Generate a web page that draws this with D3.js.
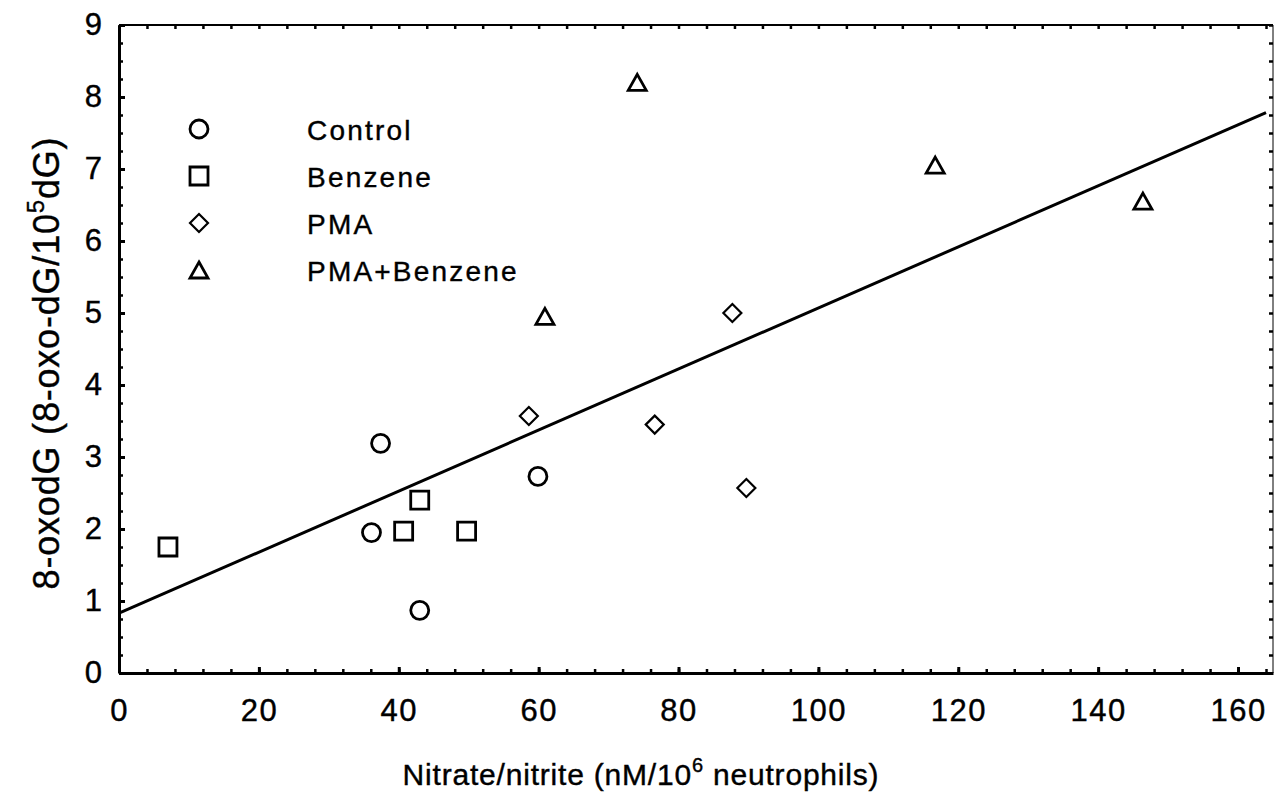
<!DOCTYPE html>
<html>
<head>
<meta charset="utf-8">
<script src="https://cdn.jsdelivr.net/npm/d3@7"></script>
<style>
  body { margin: 0; background: #fff; }
  text { font-family: "Liberation Sans", Arial, sans-serif; fill: #000; stroke: #000; stroke-width: 0.4px; }
</style>
</head>
<body>
<div id="chart"></div>
<script>
// data
const groups = ["Control", "Benzene", "PMA", "PMA+Benzene"];
const control = [[37.4, 3.19], [36.1, 1.95], [43.0, 0.87], [59.9, 2.73]];
const benzene = [[7.0, 1.75], [40.7, 1.97], [43.0, 2.40], [49.7, 1.97]];
const pma = [[58.6, 3.57], [76.6, 3.45], [87.7, 5.0], [89.7, 2.57]];
const pmaBenzene = [[60.9, 4.94], [74.1, 8.19], [116.7, 7.04], [146.4, 6.54]];
const fitIntercept = 0.83;
const fitSlope = 0.0424;
const fitRange = [0, 164];
const xTicks = [0, 20, 40, 60, 80, 100, 120, 140, 160];
const yTicks = [0, 1, 2, 3, 4, 5, 6, 7, 8, 9];

const W = 1278, H = 796;
const margin = {top: 25, right: 5, bottom: 123, left: 119};
const width = W - margin.left - margin.right;
const height = H - margin.top - margin.bottom;

const svg = d3.select("#chart").append("svg")
    .attr("width", W)
    .attr("height", H)
  .append("g")
    .attr("transform", `translate(${margin.left},${margin.top})`);

const x = d3.scaleLinear().domain([0, 165]).range([0, width]);
const y = d3.scaleLinear().domain([0, 9]).range([height, 0]);

// minor ticks on all four sides
svg.append("g").attr("transform", `translate(0,${height})`)
    .call(d3.axisBottom(x).tickValues(d3.range(0, 165, 4)).tickSize(-4).tickSizeOuter(0).tickFormat(""))
    .call(g => g.select(".domain").remove());
svg.append("g")
    .call(d3.axisTop(x).tickValues(d3.range(0, 165, 4)).tickSize(-4).tickSizeOuter(0).tickFormat(""))
    .call(g => g.select(".domain").remove());
svg.append("g")
    .call(d3.axisLeft(y).tickValues(d3.range(0, 9.01, 0.25)).tickSize(-4).tickSizeOuter(0).tickFormat(""))
    .call(g => g.select(".domain").remove());
svg.append("g").attr("transform", `translate(${width},0)`)
    .call(d3.axisRight(y).tickValues(d3.range(0, 9.01, 0.25)).tickSize(-4).tickSizeOuter(0).tickFormat(""))
    .call(g => g.select(".domain").remove());
svg.selectAll(".tick line").attr("stroke-width", 2.5);

// major axes
const xAxis = svg.append("g").attr("transform", `translate(0,${height})`)
    .call(d3.axisBottom(x).tickValues(xTicks).tickSize(-6).tickSizeOuter(0).tickPadding(26));
const yAxis = svg.append("g")
    .call(d3.axisLeft(y).tickValues(yTicks).tickSize(-6).tickSizeOuter(0).tickPadding(17));
[xAxis, yAxis].forEach(a => {
    a.select(".domain").attr("stroke-width", 3);
    a.selectAll(".tick line").attr("stroke-width", 3);
    a.selectAll(".tick text")
        .style("font-size", "31px")
        .style("letter-spacing", "1.5px")
        .attr("fill", "#000");
});
xAxis.selectAll(".tick text").attr("dy", "0.71em");
yAxis.selectAll(".tick text").attr("dx", "1.5px");

// top and right borders
svg.append("line").attr("x1", 0).attr("x2", width).attr("y1", 0).attr("y2", 0)
    .attr("stroke", "#000").attr("stroke-width", 2);
svg.append("line").attr("x1", width).attr("x2", width).attr("y1", 0).attr("y2", height)
    .attr("stroke", "#000").attr("stroke-width", 1);

// regression line
svg.append("path")
    .datum(fitRange.map(v => [v, fitIntercept + fitSlope * v]))
    .attr("d", d3.line().x(d => x(d[0])).y(d => y(d[1])))
    .attr("fill", "none")
    .attr("stroke", "#000")
    .attr("stroke-width", 3);

// marker shapes
const shapes = {
    "Control": () => d3.arc()({innerRadius: 0, outerRadius: 9, startAngle: 0, endAngle: 2 * Math.PI}),
    "Benzene": () => "M-9,-9H9V9H-9Z",
    "PMA": () => "M0,-9L9,0L0,9L-9,0Z",
    "PMA+Benzene": () => "M0,-9L9,7H-9Z"
};
const seriesData = [control, benzene, pma, pmaBenzene];

seriesData.forEach((pts, i) => {
    svg.append("g").selectAll("path")
        .data(pts)
        .join("path")
        .attr("d", shapes[groups[i]]())
        .attr("transform", d => `translate(${x(d[0])},${y(d[1])})`)
        .attr("fill", "none")
        .attr("stroke", "#000")
        .attr("stroke-width", i === 2 ? 2.2 : 2.8);
});

// legend
const legend = svg.append("g").attr("transform", "translate(80,104)");
groups.forEach((g, i) => {
    const row = legend.append("g").attr("transform", `translate(0,${i * 47})`);
    row.append("path")
        .attr("d", shapes[g]())
        .attr("transform", i === 3 ? "translate(0,1)" : null)
        .attr("fill", "none")
        .attr("stroke", "#000")
        .attr("stroke-width", i === 2 ? 2.2 : 2.8);
    row.append("text")
        .attr("x", 108)
        .attr("y", 11)
        .style("font-size", "28px")
        .style("letter-spacing", "2.2px")
        .text(g);
});

// axis titles
const xt = svg.append("text")
    .attr("x", 522)
    .attr("y", height + 112)
    .attr("text-anchor", "middle")
    .style("font-size", "30px")
    .style("letter-spacing", "0.8px");
xt.append("tspan").text("Nitrate/nitrite (nM/10");
xt.append("tspan").attr("dy", -13).style("font-size", "20px").text("6");
xt.append("tspan").attr("dy", 13).text(" neutrophils)");

const yt = svg.append("text")
    .attr("transform", `translate(${-60},${338}) rotate(-90)`)
    .attr("text-anchor", "middle")
    .style("font-size", "36px")
    .style("letter-spacing", "0.8px");
yt.append("tspan").text("8-oxodG (8-oxo-dG/10");
yt.append("tspan").attr("dy", -15).style("font-size", "24px").text("5");
yt.append("tspan").attr("dy", 15).text("dG)");
</script>
</body>
</html>
